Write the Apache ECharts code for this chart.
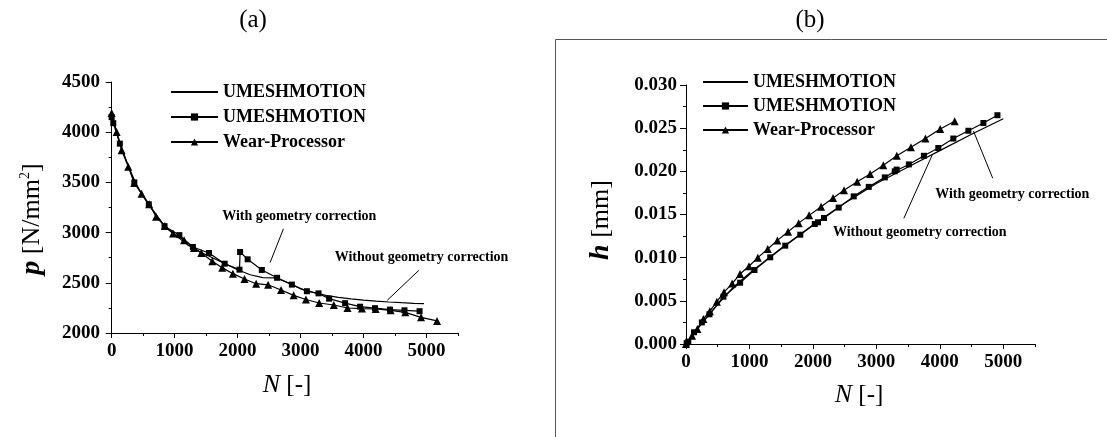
<!DOCTYPE html>
<html>
<head>
<meta charset="utf-8">
<script src="https://cdn.jsdelivr.net/npm/echarts@6/dist/echarts.min.js"></script>
<style>
html,body{margin:0;padding:0;background:#fff;}
#c{width:1107px;height:437px;}
</style>
</head>
<body>
<div id="c"></div>
<script>
// ---------- Data: chart (a) pressure p vs N ----------
const aPlainN = [0, 50, 100, 200, 300, 400, 500, 600, 700, 800, 900, 1000, 1200, 1400, 1600, 1800, 2000, 2200, 2400, 2600, 2800, 3000, 3200, 3400, 3600, 3800, 4000, 4200, 4400, 4600, 4800, 4960];
const aPlainP = [4170, 4070, 3960, 3770, 3610, 3470, 3360, 3270, 3180, 3100, 3030, 2980, 2880, 2810, 2750, 2690, 2630, 2580, 2552, 2550, 2500, 2440, 2405, 2375, 2355, 2340, 2328, 2318, 2309, 2302, 2296, 2292];
const aSqN = [0, 26, 130, 360, 590, 840, 1075, 1290, 1545, 1795, 2030, 2040, 2160, 2385, 2627, 2862, 3100, 3285, 3454, 3707, 3945, 4182, 4420, 4650, 4890];
const aSqP = [4150, 4090, 3886, 3500, 3282, 3064, 2975, 2857, 2797, 2690, 2631, 2807, 2734, 2628, 2550, 2482, 2416, 2395, 2342, 2297, 2262, 2247, 2233, 2226, 2217];
const aTriN = [0, 79, 158, 264, 359, 475, 596, 705, 844, 975, 1150, 1308, 1424, 1598, 1756, 1925, 2110, 2294, 2485, 2690, 2890, 3085, 3296, 3528, 3745, 3975, 4193, 4430, 4662, 4913, 5168];
const aTriP = [4191, 4002, 3819, 3657, 3494, 3388, 3282, 3158, 3066, 2990, 2925, 2847, 2797, 2714, 2651, 2591, 2538, 2491, 2480, 2428, 2375, 2334, 2299, 2279, 2249, 2243, 2239, 2226, 2206, 2156, 2120];

// ---------- Data: chart (b) wear depth h vs N ----------
const bPlainN = [0, 250, 500, 750, 1000, 1500, 2000, 2500, 3000, 3500, 4000, 4500, 5000];
const bPlainH = [0, 0.0024, 0.0046, 0.0066, 0.0082, 0.0111, 0.0138, 0.0163, 0.0186, 0.0205, 0.0224, 0.0243, 0.0261];
const bSqN = [10, 36, 127, 250, 369, 590, 853, 1079, 1327, 1564, 1801, 2030, 2080, 2175, 2406, 2643, 2880, 3133, 3290, 3320, 3512, 3749, 3976, 4213, 4450, 4687, 4908];
const bSqH = [0.0001, 0.00027, 0.00136, 0.0025, 0.00344, 0.00548, 0.0071, 0.00857, 0.01004, 0.01139, 0.01266, 0.0139, 0.0141, 0.0146, 0.0158, 0.0171, 0.0182, 0.0193, 0.0200, 0.0202, 0.0208, 0.0218, 0.0227, 0.0238, 0.0247, 0.0256, 0.0265];
const bTriN = [0, 95, 179, 274, 375, 487, 599, 728, 851, 992, 1132, 1288, 1440, 1608, 1776, 1940, 2128, 2318, 2490, 2698, 2902, 3110, 3322, 3545, 3773, 4006, 4234];
const bTriH = [0, 0.00097, 0.00174, 0.0029, 0.0038, 0.0049, 0.0060, 0.0070, 0.0081, 0.0090, 0.0100, 0.0110, 0.0120, 0.0130, 0.0140, 0.0149, 0.0159, 0.0169, 0.0178, 0.0188, 0.0197, 0.0207, 0.0218, 0.0228, 0.0238, 0.0249, 0.0258];

// ---------- Ticks ----------
const xMajorTicks = [0, 1000, 2000, 3000, 4000, 5000];
const xMinorTicks = [500, 1500, 2500, 3500, 4500, 5500];

// ---------- Labels / annotations ----------
const seriesNames = ['UMESHMOTION (without correction)', 'UMESHMOTION (with correction)', 'Wear-Processor'];
const legendLabels = ['UMESHMOTION', 'UMESHMOTION', 'Wear-Processor'];
const annWith = 'With geometry correction';
const annWithout = 'Without geometry correction';
// arrows [fromN, fromY, toN, toY]
const aArrowWith = [2728, 3038, 2516, 2701];
const aArrowWithout = [4878, 2624, 4377, 2326];
const bArrowWith = [4834, 0.0192, 4530, 0.02467];
const bArrowWithout = [3433, 0.01456, 3881, 0.0219];
// text centres [N, Y]
const aTextWith = [2979, 3162];
const aTextWithout = [4921, 2751];
const bTextWith = [5142, 0.01734];
const bTextWithout = [3684, 0.01294];

const zip = (a, b) => a.map((v, i) => [v, b[i]]);
const SERIF = "'Liberation Serif','Times New Roman',serif";
const BLACK = '#000';

const chart = echarts.init(document.getElementById('c'), null, {renderer: 'canvas'});

function arrow(a) {
  return [{coord: [a[0], a[1]]}, {coord: [a[2], a[3]]}];
}
function textPt(p, txt) {
  return {
    coord: p, symbol: 'circle', symbolSize: 0,
    label: {show: true, position: 'inside', formatter: txt, color: BLACK,
      fontFamily: SERIF, fontWeight: 'bold', fontSize: 14}
  };
}

function xAxes(grid, min) {
  return [
    {
      type: 'value', gridIndex: grid, min: min, max: 5500,
      axisLine: {show: true, lineStyle: {color: BLACK, width: 1}},
      axisTick: {show: true, customValues: xMajorTicks, length: 5, lineStyle: {color: BLACK}},
      axisLabel: {customValues: xMajorTicks, color: BLACK, fontFamily: SERIF, fontWeight: 'bold', fontSize: 19, margin: 9,
        formatter: v => String(v)},
      splitLine: {show: false}
    },
    {
      type: 'value', gridIndex: grid, min: min, max: 5500, position: 'bottom',
      axisLine: {show: false},
      axisTick: {show: true, customValues: xMinorTicks, length: 3, lineStyle: {color: BLACK}},
      axisLabel: {show: false},
      splitLine: {show: false}
    }
  ];
}

const lineBase = {
  type: 'line', smooth: false, animation: false,
  lineStyle: {color: BLACK, width: 1.2},
  itemStyle: {color: BLACK},
  emphasis: {disabled: true}
};

function legendData() {
  return [{name: seriesNames[0], itemStyle: {opacity: 0}}, seriesNames[1], seriesNames[2]];
}

const option = {
  backgroundColor: '#fff',
  animation: false,
  grid: [
    {left: 108, right: 649, top: 82, bottom: 104, containLabel: false},
    {left: 686, right: 72, top: 85, bottom: 93, containLabel: false}
  ],
  xAxis: [].concat(xAxes(0, -58), xAxes(1, 0)),
  yAxis: [
    {
      type: 'value', gridIndex: 0, min: 2000, max: 4500, interval: 500,
      axisLine: {show: true, lineStyle: {color: BLACK, width: 1}},
      axisTick: {show: true, length: 6, lineStyle: {color: BLACK}},
      minorTick: {show: true, splitNumber: 2, length: 3, lineStyle: {color: BLACK}},
      axisLabel: {color: BLACK, fontFamily: SERIF, fontWeight: 'bold', fontSize: 19, margin: 8,
        formatter: v => String(v)},
      splitLine: {show: false}
    },
    {
      type: 'value', gridIndex: 1, min: 0, max: 0.03, interval: 0.005,
      axisLine: {show: true, lineStyle: {color: BLACK, width: 1}},
      axisTick: {show: true, length: 6, lineStyle: {color: BLACK}},
      minorTick: {show: true, splitNumber: 2, length: 3, lineStyle: {color: BLACK}},
      axisLabel: {color: BLACK, fontFamily: SERIF, fontWeight: 'bold', fontSize: 19, margin: 9,
        formatter: v => v.toFixed(3)},
      splitLine: {show: false}
    }
  ],
  legend: [
    {
      orient: 'vertical', left: 170, top: 83, padding: 0, itemGap: 7, itemWidth: 47, itemHeight: 9,
      data: legendData(),
      formatter: n => legendLabels[seriesNames.indexOf(n)],
      textStyle: {color: BLACK, fontFamily: SERIF, fontWeight: 'bold', fontSize: 18},
      selectedMode: false
    },
    {
      orient: 'vertical', left: 702, top: 73, padding: 0, itemGap: 6, itemWidth: 45, itemHeight: 9,
      data: legendData(),
      formatter: n => legendLabels[seriesNames.indexOf(n)],
      textStyle: {color: BLACK, fontFamily: SERIF, fontWeight: 'bold', fontSize: 18},
      selectedMode: false
    }
  ],
  graphic: [
    {type: 'text', x: 253, y: 20, style: {text: '(a)', fontFamily: SERIF, fontSize: 25, fill: BLACK, align: 'center', verticalAlign: 'middle'}},
    {type: 'text', x: 810, y: 20, style: {text: '(b)', fontFamily: SERIF, fontSize: 25, fill: BLACK, align: 'center', verticalAlign: 'middle'}},
    {type: 'polyline', shape: {points: [[555.5, 437], [555.5, 39.5], [1107, 39.5]]}, style: {stroke: '#555', lineWidth: 1, fill: null}},
    {type: 'text', x: 32, y: 219, rotation: Math.PI / 2,
      style: {text: '{i|p} {r|[N/mm}{s|2}{r|]}', align: 'center', verticalAlign: 'middle', fill: BLACK,
        fontFamily: SERIF, fontSize: 26,
        rich: {i: {fontFamily: SERIF, fontStyle: 'italic', fontWeight: 'bold', fontSize: 28, fill: BLACK},
               r: {fontFamily: SERIF, fontSize: 26, fill: BLACK},
               s: {fontFamily: SERIF, fontSize: 14, verticalAlign: 'top', padding: [0, 0, 12, 0], fill: BLACK}}}},
    {type: 'text', x: 287, y: 385,
      style: {text: '{i|N} {r|[-]}', align: 'center', verticalAlign: 'middle', fill: BLACK,
        fontFamily: SERIF, fontSize: 25,
        rich: {i: {fontFamily: SERIF, fontStyle: 'italic', fontSize: 26, fill: BLACK},
               r: {fontFamily: SERIF, fontSize: 25, fill: BLACK}}}},
    {type: 'text', x: 601, y: 220, rotation: Math.PI / 2,
      style: {text: '{i|h} {r|[mm]}', align: 'center', verticalAlign: 'middle', fill: BLACK,
        fontFamily: SERIF, fontSize: 26,
        rich: {i: {fontFamily: SERIF, fontStyle: 'italic', fontWeight: 'bold', fontSize: 28, fill: BLACK},
               r: {fontFamily: SERIF, fontSize: 26, fill: BLACK}}}},
    {type: 'text', x: 859, y: 395,
      style: {text: '{i|N} {r|[-]}', align: 'center', verticalAlign: 'middle', fill: BLACK,
        fontFamily: SERIF, fontSize: 25,
        rich: {i: {fontFamily: SERIF, fontStyle: 'italic', fontSize: 26, fill: BLACK},
               r: {fontFamily: SERIF, fontSize: 25, fill: BLACK}}}}
  ],
  series: [
    // chart (a)
    Object.assign({}, lineBase, {
      name: seriesNames[0], xAxisIndex: 0, yAxisIndex: 0, symbol: 'none',
      data: zip(aPlainN, aPlainP),
      markLine: {
        silent: true, animation: false, symbol: ['none', 'arrow'], symbolSize: [0, 10],
        lineStyle: {color: BLACK, width: 1, type: 'solid'}, label: {show: false},
        data: [arrow(aArrowWith), arrow(aArrowWithout)]
      },
      markPoint: {silent: true, animation: false, data: [textPt(aTextWith, annWith), textPt(aTextWithout, annWithout)]}
    }),
    Object.assign({}, lineBase, {
      name: seriesNames[1], xAxisIndex: 0, yAxisIndex: 0, symbol: 'rect', symbolSize: 6, showAllSymbol: true,
      data: zip(aSqN, aSqP)
    }),
    Object.assign({}, lineBase, {
      name: seriesNames[2], xAxisIndex: 0, yAxisIndex: 0, symbol: 'triangle', symbolSize: 8, showAllSymbol: true,
      data: zip(aTriN, aTriP)
    }),
    // chart (b)
    Object.assign({}, lineBase, {
      name: seriesNames[0], xAxisIndex: 2, yAxisIndex: 1, symbol: 'none',
      data: zip(bPlainN, bPlainH),
      markLine: {
        silent: true, animation: false, symbol: ['none', 'arrow'], symbolSize: [0, 10],
        lineStyle: {color: BLACK, width: 1, type: 'solid'}, label: {show: false},
        data: [arrow(bArrowWith), arrow(bArrowWithout)]
      },
      markPoint: {silent: true, animation: false, data: [textPt(bTextWith, annWith), textPt(bTextWithout, annWithout)]}
    }),
    Object.assign({}, lineBase, {
      name: seriesNames[1], xAxisIndex: 2, yAxisIndex: 1, symbol: 'rect', symbolSize: 6, showAllSymbol: true,
      data: zip(bSqN, bSqH)
    }),
    Object.assign({}, lineBase, {
      name: seriesNames[2], xAxisIndex: 2, yAxisIndex: 1, symbol: 'triangle', symbolSize: 8, showAllSymbol: true,
      data: zip(bTriN, bTriH)
    })
  ]
};
chart.setOption(option);
</script>
</body>
</html>
